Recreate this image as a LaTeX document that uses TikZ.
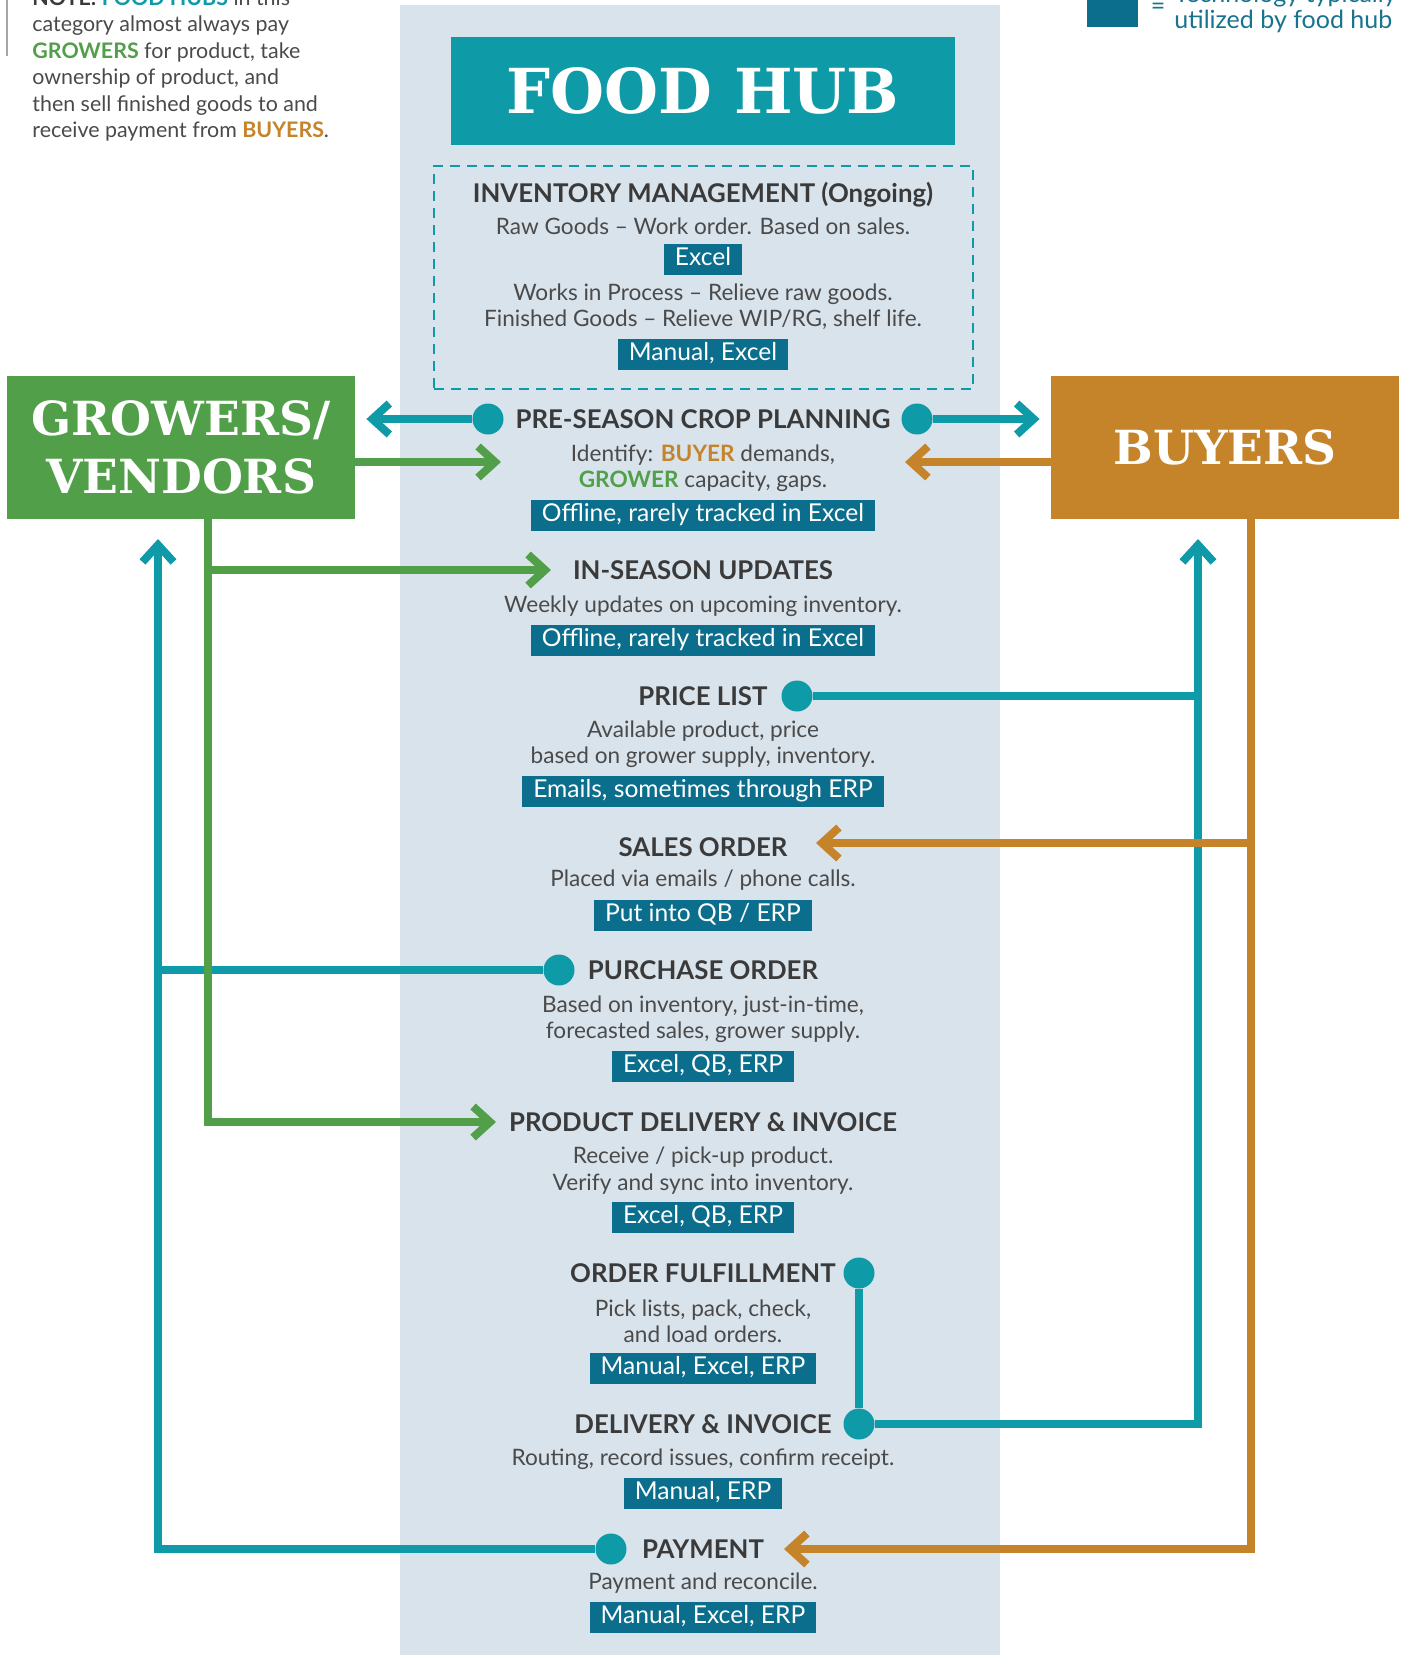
\documentclass[tikz,border=0pt]{standalone}
\usepackage{fontspec}
\setmainfont{Lato}
\newfontfamily\slabfont{DejaVu Serif}
\usetikzlibrary{positioning,arrows.meta}
\definecolor{colbg}{HTML}{D9E3EC}
\definecolor{hubteal}{HTML}{0F9AA8}
\definecolor{techblue}{HTML}{0B6E8D}
\definecolor{growgreen}{HTML}{529F4A}
\definecolor{buyorange}{HTML}{C6842A}
\definecolor{headgray}{HTML}{3A3A3A}
\definecolor{bodygray}{HTML}{4A4A4A}
\definecolor{legtext}{HTML}{17738F}

\begin{document}
\begin{tikzpicture}[x=0.5pt, y=-0.5pt,
    >={Straight Barb[length=8.5pt,width=15.5pt]},
    head/.style={font=\bfseries\fontsize{12.9}{15}\selectfont, text=headgray, inner sep=0pt},
    desc/.style={font=\fontsize{11.3}{13.2}\selectfont, text=bodygray, align=center, inner sep=0pt},
    tech/.style={fill=techblue, text=white, font=\fontsize{12.3}{14}\selectfont, inner xsep=5.5pt, inner ysep=0pt,
                 minimum height=15.5pt, text height=8.9pt, text depth=2.6pt},
    dot/.style={circle, fill=hubteal, minimum size=15.5pt, inner sep=0pt},
    side/.style={font=\slabfont\bfseries\fontsize{23.5}{29}\selectfont, text=white, align=center,
                 minimum width=174pt, minimum height=71.5pt, inner sep=0pt},
    tline/.style={draw=hubteal, line width=4pt},
    gline/.style={draw=growgreen, line width=4pt},
    oline/.style={draw=buyorange, line width=4pt}]
    \useasboundingbox (0,0) rectangle (1405,1655);
    \fill[colbg] (400,5) rectangle (1000,1655);

    \draw[gray!70, line width=1.2pt] (7,0) -- (7,56);
    \node[font=\fontsize{10.7}{13.25}\selectfont, text=bodygray, align=left, anchor=north west, inner sep=0pt] (note) at (32,-11)
      {\textbf{\textcolor{headgray}{NOTE:}} \textbf{\textcolor{hubteal}{FOOD HUBS}} in this\\
       category almost always pay\\
       \textbf{\textcolor{growgreen}{GROWERS}} for product, take\\
       ownership of product, and\\
       then sell finished goods to and\\
       receive payment from \textbf{\textcolor{buyorange}{BUYERS}}.};
    \node[fill=techblue, minimum width=25.5pt, minimum height=16.5pt, inner sep=0pt] (key) at (1112.5,10.5) {};
    \node[text=legtext, font=\fontsize{12.5}{13}\selectfont, inner sep=0pt] (eq) at (1158,9) {=};
    \node[text=legtext, font=\fontsize{12.5}{13}\selectfont, align=left, anchor=north west, inner sep=0pt] (legend) at (1174,-16)
      {Technology typically\\ utilized by food hub};

    \node[fill=hubteal, text=white, font=\slabfont\bfseries\fontsize{31}{36}\selectfont,
          minimum width=252pt, minimum height=54pt, inner sep=0pt] (hub) at (703,91) {FOOD HUB};
    \node[side, fill=growgreen] (grow) at (181,447.5) {GROWERS/\\VENDORS};
    \node[side, fill=buyorange] (buy) at (1225,447.5) {BUYERS};

    \node[draw=hubteal, dash pattern=on 5pt off 3.5pt, line width=1.4pt,
          minimum width=269.5pt, minimum height=111.5pt] (stock) at (703.5,277.5) {};
    \node[head] (stockH) at (703,195) {INVENTORY MANAGEMENT (Ongoing)};
    \node[desc] (stockD1) at (703,226) {Raw Goods -- Work order. Based on sales.};
    \node[tech] (stockT1) at (703,259.5) {Excel};
    \node[desc] (stockD2) at (703,307) {Works in Process -- Relieve raw goods.\\ Finished Goods -- Relieve WIP/RG, shelf life.};
    \node[tech] (stockT2) at (703,354) {Manual, Excel};

    \node[head] (preH) at (703,419) {PRE-SEASON CROP PLANNING};
    \node[desc] (preD) at (703,468) {Identify: \textbf{\textcolor{buyorange}{BUYER}} demands,\\ \textbf{\textcolor{growgreen}{GROWER}} capacity, gaps.};
    \node[tech] (preT) at (703,515.5) {Offline, rarely tracked in Excel};
    \node[dot] (preL) at (488,419) {};
    \node[dot] (preR) at (917,419) {};

    \node[head] (insH) at (703,570) {IN-SEASON UPDATES};
    \node[desc] (insD) at (703,606) {Weekly updates on upcoming inventory.};
    \node[tech] (insT) at (703,640) {Offline, rarely tracked in Excel};

    \node[head] (priceH) at (703,696) {PRICE LIST};
    \node[desc] (priceD) at (703,744) {Available product, price\\ based on grower supply, inventory.};
    \node[tech] (priceT) at (703,791) {Emails, sometimes through ERP};
    \node[dot] (priceDot) at (797,696) {};

    \node[head] (salesH) at (703,847) {SALES ORDER};
    \node[desc] (salesD) at (703,880) {Placed via emails / phone calls.};
    \node[tech] (salesT) at (703,915.5) {Put into QB / ERP};

    \node[head] (purchH) at (703,970) {PURCHASE ORDER};
    \node[desc] (purchD) at (703,1019.5) {Based on inventory, just-in-time,\\ forecasted sales, grower supply.};
    \node[tech] (purchT) at (703,1066.5) {Excel, QB, ERP};
    \node[dot] (purchDot) at (559,970) {};

    \node[head] (delH) at (703,1122) {PRODUCT DELIVERY \& INVOICE};
    \node[desc] (delD) at (703,1170.5) {Receive / pick-up product.\\ Verify and sync into inventory.};
    \node[tech] (delT) at (703,1217.5) {Excel, QB, ERP};

    \node[head] (fulH) at (703,1273) {ORDER FULFILLMENT};
    \node[desc] (fulD) at (703,1321.5) {Pick lists, pack, check,\\ and load orders.};
    \node[tech] (fulT) at (703,1368.5) {Manual, Excel, ERP};
    \node[dot] (fulDot) at (859,1273) {};

    \node[head] (billH) at (703,1424) {DELIVERY \& INVOICE};
    \node[desc] (billD) at (703,1459) {Routing, record issues, confirm receipt.};
    \node[tech] (billT) at (703,1493.5) {Manual, ERP};
    \node[dot] (billDot) at (859,1424) {};

    \node[head] (payH) at (703,1549) {PAYMENT};
    \node[desc] (payD) at (703,1583) {Payment and reconcile.};
    \node[tech] (payT) at (703,1617.5) {Manual, Excel, ERP};
    \node[dot] (payDot) at (611,1549) {};

    \coordinate (preIn) at (501,462);
    \coordinate (insIn) at (551,570);
    \coordinate (delIn) at (496,1122);
    \coordinate (preOut) at (905,462);
    \coordinate (salesIn) at (816,843);
    \coordinate (payIn) at (784,1549);
    \coordinate (gdrop) at (208,519);
    \coordinate (odrop) at (1251,519);
    \coordinate (gup) at (158,539);
    \coordinate (bup) at (1198,539);

    \draw[tline,->,shorten >=5.5pt] (preL) -- (preL -| grow.east);
    \draw[tline,->,shorten >=5.5pt] (preR) -- (preR -| buy.west);
    \draw[tline] (purchDot) -- (purchDot -| gup);
    \draw[tline,->] (payDot) -| (gup);
    \draw[tline] (priceDot) -- (priceDot -| bup);
    \draw[tline,->] (billDot) -| (bup);
    \draw[tline] (fulDot) -- (billDot);
    \draw[gline,->] (grow.east |- preIn) -- (preIn);
    \draw[gline,->] (gdrop) |- (delIn);
    \draw[gline,->] (gdrop |- insIn) -- (insIn);
    \draw[oline,->] (buy.west |- preOut) -- (preOut);
    \draw[oline,->] (odrop) |- (payIn);
    \draw[oline,->] (odrop |- salesIn) -- (salesIn);
\end{tikzpicture}
\end{document}
